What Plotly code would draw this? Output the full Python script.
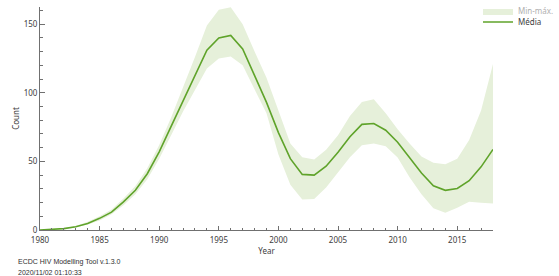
import plotly.graph_objects as go

years = list(range(1980, 2019))
media = [0, 0.3, 1.0, 2.4, 4.8, 8.5, 13, 20.5, 29, 41,
         57, 75.5, 94, 112, 131, 140, 141.8, 132, 113, 93,
         71, 52, 40.5, 40, 46.5, 56.7, 68, 77, 77.6, 72.7,
         64, 53, 41.5, 32.2, 28.9, 30.3, 35.9, 46, 58.7]
max_v = [0, 0.4, 1.3, 3, 6, 10, 15, 23, 32, 45,
         62, 82, 103.7, 126, 149, 160.5, 162.4, 150, 130, 111,
         87, 63, 53, 51.4, 58.5, 69, 83, 93.3, 95.3, 85,
         73.5, 63, 53.5, 49, 48, 52, 65.5, 87, 121]
min_v = [0, 0.2, 0.8, 2, 4, 7, 11.5, 18, 26, 37,
         52, 69, 86.4, 102, 117.6, 125, 126.4, 120, 103, 85,
         55, 33, 22.3, 22.5, 31, 42, 53, 61.8, 63, 61,
         52.8, 38.5, 26, 15.8, 12.6, 16.2, 20.6, 19.9, 19.4]

LINE = "#5fa32a"
BAND = "#e6f0da"
FONT = "Noto Sans"
W, H = 559, 276

fig = go.Figure()
fig.add_trace(go.Scatter(x=years, y=min_v, mode="lines", line=dict(width=0, color=BAND),
                         showlegend=False, hoverinfo="skip"))
fig.add_trace(go.Scatter(x=years, y=max_v, mode="lines", line=dict(width=0, color=BAND),
                         fill="tonexty", fillcolor=BAND,
                         name="<span style='color:#b0b0b0'>Min-máx.</span>", legend="legend"))
fig.add_trace(go.Scatter(x=years, y=media, mode="lines", line=dict(width=1.6, color=LINE),
                         name="<span style='color:#404040'>Média</span>", legend="legend2"))

axis_common = dict(showline=True, linecolor="#707070", linewidth=1, ticks="inside",
                   tickcolor="#707070", showgrid=False, zeroline=False, automargin=False,
                   tickfont=dict(family=FONT, size=8, color="#404040"))

legend_common = dict(xref="container", yref="container", xanchor="left", yanchor="middle",
                     bgcolor="rgba(0,0,0,0)", font=dict(family=FONT, size=8),
                     itemwidth=30, borderwidth=0)

fig.update_layout(
    width=W, height=H,
    margin=dict(l=40, r=66, t=7, b=46, autoexpand=False),
    paper_bgcolor="white", plot_bgcolor="white",
    font=dict(family=FONT, size=8, color="#404040"),
    xaxis=dict(range=[1980, 2018], tickmode="array", tickvals=[1980, 1985, 1990, 1995, 2000, 2005, 2010, 2015],
               ticklen=4, ticklabelstandoff=2,
               minor=dict(dtick=1, ticks="inside", ticklen=2, tickcolor="#707070"),
               title=dict(text="Year", font=dict(family=FONT, size=8, color="#404040"), standoff=2),
               **axis_common),
    yaxis=dict(range=[0, 162.5], tickvals=[0, 50, 100, 150], ticklen=5,
               minor=dict(dtick=10, ticks="inside", ticklen=3, tickcolor="#707070"),
               title=dict(text="Count", font=dict(family=FONT, size=8, color="#404040"), standoff=2),
               **axis_common),
    legend=dict(x=478 / W, y=1 - 11 / H, **legend_common),
    legend2=dict(x=478 / W, y=1 - 22 / H, **legend_common),
    annotations=[
        dict(text="ECDC HIV Modelling Tool v.1.3.0", xref="paper", yref="paper", x=-24 / 453, y=-32 / 223,
             xanchor="left", yanchor="middle", showarrow=False,
             font=dict(family="Liberation Sans", size=7, color="#303030")),
        dict(text="2020/11/02 01:10:33", xref="paper", yref="paper", x=-24 / 453, y=-42 / 223,
             xanchor="left", yanchor="middle", showarrow=False,
             font=dict(family="Liberation Sans", size=7, color="#303030")),
    ],
)

fig.write_html("out.html", config={"displayModeBar": False},
               post_script="document.body.style.margin='0';document.body.style.padding='0';")
